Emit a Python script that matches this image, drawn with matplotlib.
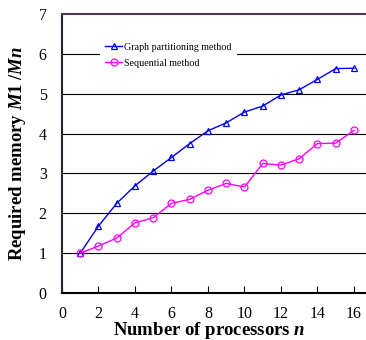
import matplotlib
matplotlib.use("Agg")
import matplotlib.pyplot as plt

plt.rcParams["font.family"] = ["Liberation Serif", "DejaVu Serif"]
plt.rcParams["mathtext.fontset"] = "custom"
plt.rcParams["mathtext.it"] = "Liberation Serif:italic:bold"
plt.rcParams["mathtext.rm"] = "Liberation Serif:bold"

processors = list(range(1, 17))
graph_partitioning = [1.00, 1.68, 2.25, 2.69, 3.06, 3.40, 3.75, 4.07, 4.27, 4.54,
                      4.69, 4.97, 5.10, 5.36, 5.63, 5.64]
sequential = [1.00, 1.18, 1.38, 1.76, 1.89, 2.25, 2.35, 2.58, 2.75, 2.66,
              3.25, 3.21, 3.37, 3.75, 3.76, 4.08]
x_ticks = list(range(0, 17, 2))
y_ticks = list(range(0, 8))

fig = plt.figure(figsize=(3.66, 3.40), dpi=100)
ax = fig.add_axes([62 / 366, 1 - 293 / 340, 1 - 62 / 366, (293 - 14) / 340])

for y in y_ticks[1:7]:
    ax.axhline(y, color="black", lw=0.8, zorder=1)

ax.plot(processors, graph_partitioning, color="#0000ff", lw=1.0, marker="^",
        ms=5, mfc="none", mew=0.9, label="Graph partitioning method", zorder=3)
ax.plot(processors, sequential, color="#ff00ff", lw=1.0, marker="o",
        ms=5, mfc="none", mew=0.9, label="Sequential method", zorder=3)

ax.set_xlim(0, 16.66)
ax.set_ylim(0, 7)
ax.set_xticks(x_ticks)
ax.set_yticks(y_ticks)
ax.tick_params(axis="x", direction="in", length=5, pad=9, labelsize=11.5, color="black")
ax.tick_params(axis="y", length=0, pad=11, labelsize=11.5)

ax.spines["right"].set_visible(False)
ax.spines["top"].set_color("#4a3a55")
ax.spines["top"].set_linewidth(1.5)
ax.spines["left"].set_color("#2a2030")
ax.spines["left"].set_linewidth(1.5)
ax.spines["bottom"].set_color("black")
ax.spines["bottom"].set_linewidth(1.5)

fig.text(209 / 366, 1 - 335 / 340, r"Number of processors $n$", fontsize=13.5,
         fontweight="bold", ha="center", va="baseline")
ax.set_ylabel(r"Required memory $M1$ /$Mn$", fontsize=13.5, fontweight="bold", labelpad=8)

leg = ax.legend(loc="upper left", bbox_to_anchor=(0.125, 0.915), fontsize=7.2,
                frameon=True, framealpha=1, edgecolor="none", fancybox=False,
                handlelength=1.7, handletextpad=0.2, borderpad=0.5,
                labelspacing=0.7, borderaxespad=0)
leg.set_zorder(2)

fig.savefig("out.png", dpi=100)
